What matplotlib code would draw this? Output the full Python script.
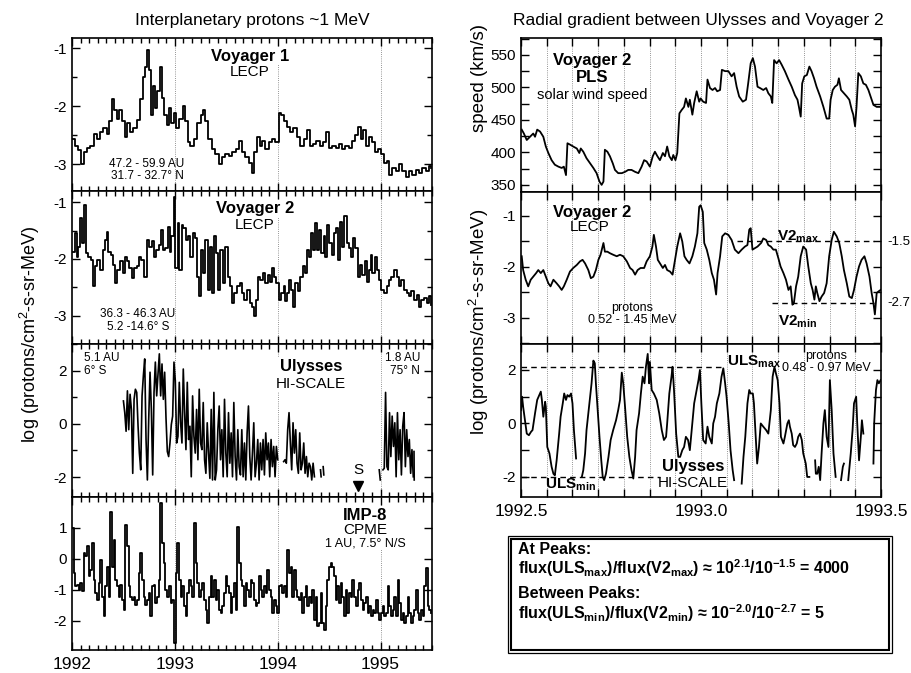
import numpy as np
import matplotlib.pyplot as plt
from matplotlib.ticker import MultipleLocator, FixedLocator, FormatStrFormatter
from matplotlib.patches import Rectangle

plt.rcParams['font.family'] = ['Liberation Sans', 'DejaVu Sans']
plt.rcParams['mathtext.fontset'] = 'custom'
plt.rcParams['mathtext.rm'] = 'Liberation Sans'
plt.rcParams['mathtext.bf'] = 'Liberation Sans:bold'
plt.rcParams['mathtext.it'] = 'Liberation Sans:italic'
plt.rcParams['axes.unicode_minus'] = False

nan = np.nan

# ---- left column: ~1 MeV protons, 1992-1995.5 (years after 1992, log flux)
v1_pts = [(0.0,-2.56),(0.029,-2.68),(0.062,-2.76),(0.084,-3.0),(0.117,-2.79),(0.143,-2.71),(0.175,-2.68),(0.214,-2.47),(0.240,-2.56),(0.273,-2.44),
          (0.305,-2.38),(0.338,-2.47),(0.364,-2.26),(0.386,-1.88),(0.409,-2.06),(0.435,-2.21),(0.461,-2.06),(0.484,-2.26),(0.516,-2.53),(0.539,-2.29),
          (0.565,-2.44),(0.597,-2.38),(0.630,-2.24),(0.662,-1.88),(0.688,-1.5),(0.711,-1.32),(0.727,-1.03),(0.747,-1.38),(0.766,-2.15),(0.786,-1.65),
          (0.808,-2.03),(0.831,-1.74),(0.851,-1.32),(0.873,-1.85),(0.896,-2.15),(0.922,-2.32),(0.942,-2.03),(0.964,-2.29),(0.987,-2.12),(1.013,-2.38),
          (1.036,-2.21),(1.078,-2.0),(1.101,-2.26),(1.123,-2.62),(1.149,-2.68),(1.182,-2.56),(1.214,-2.29),(1.253,-2.15),(1.273,-2.06),(1.295,-2.26),
          (1.318,-2.56),(1.360,-2.74),(1.393,-2.82),(1.425,-3.0),(1.458,-2.88),(1.490,-2.82),(1.523,-2.85),(1.555,-2.79),(1.597,-2.74),(1.620,-2.59),
          (1.653,-2.79),(1.685,-2.88),(1.718,-2.97),(1.750,-3.15),(1.773,-2.79),(1.799,-2.53),(1.825,-2.68),(1.847,-2.59),(1.880,-2.74),(1.912,-2.62),
          (1.945,-2.56),(1.977,-2.62),(2.010,-2.12),(2.032,-2.15),(2.058,-2.26),(2.091,-2.35),(2.123,-2.44),(2.149,-2.38),(2.188,-2.53),(2.221,-2.68),
          (2.253,-2.56),(2.286,-2.41),(2.312,-2.68),(2.344,-2.65),(2.377,-2.59),(2.409,-2.68),(2.442,-2.62),(2.474,-2.44),(2.497,-2.71),(2.529,-2.68),
          (2.562,-2.71),(2.594,-2.65),(2.627,-2.74),(2.659,-2.68),(2.692,-2.71),(2.724,-2.59),(2.756,-2.5),(2.779,-2.35),(2.805,-2.56),(2.831,-2.41),
          (2.854,-2.68),(2.886,-2.53),(2.919,-2.62),(2.942,-2.79),(2.974,-2.74),(3.000,-2.82),(3.032,-2.97),(3.058,-2.94),(3.081,-3.18),(3.114,-3.06),
          (3.146,-3.12),(3.179,-3.0),(3.211,-3.12),(3.244,-3.21),(3.276,-3.12),(3.308,-3.18),(3.341,-3.09),(3.373,-3.15),(3.406,-3.06),(3.438,-3.12),
          (3.471,-3.03),(3.494,-3.06)]

v2_pts = [(0.006,-1.87),(0.029,-1.55),(0.045,-1.96),(0.062,-1.78),(0.078,-1.28),(0.094,-1.72),(0.117,-1.05),(0.136,-1.90),(0.159,-1.96),(0.182,-2.01),
          (0.208,-2.48),(0.224,-2.13),(0.247,-2.01),(0.273,-2.19),(0.299,-1.84),(0.321,-1.66),(0.338,-1.52),(0.354,-1.87),(0.377,-1.93),(0.396,-2.10),
          (0.419,-2.43),(0.442,-2.19),(0.468,-2.04),(0.494,-2.25),(0.516,-1.96),(0.539,-2.04),(0.558,-2.16),(0.581,-2.34),(0.604,-2.16),(0.630,-2.13),
          (0.653,-1.96),(0.672,-2.01),(0.701,-2.31),(0.727,-1.66),(0.750,-1.78),(0.776,-1.69),(0.799,-1.96),(0.818,-1.84),(0.841,-1.75),(0.864,-1.49),
          (0.883,-1.84),(0.906,-1.81),(0.929,-1.43),(0.948,-1.87),(0.964,-1.60),(0.987,-0.90),(1.006,-2.16),(1.026,-1.37),(1.045,-2.19),(1.065,-1.40),
          (1.084,-1.46),(1.107,-1.66),(1.127,-1.60),(1.149,-1.96),(1.172,-1.55),(1.192,-1.63),(1.214,-2.31),(1.234,-2.66),(1.253,-1.84),(1.273,-2.25),
          (1.295,-1.66),(1.318,-2.54),(1.338,-1.78),(1.360,-2.60),(1.383,-1.60),(1.403,-1.90),(1.422,-2.54),(1.442,-1.84),(1.468,-2.43),(1.490,-1.78),
          (1.513,-2.31),(1.532,-2.48),(1.555,-2.78),(1.578,-2.60),(1.604,-2.48),(1.630,-2.43),(1.653,-2.60),(1.675,-2.72),(1.701,-2.54),(1.727,-2.78),
          (1.750,-2.84),(1.766,-3.01),(1.786,-2.72),(1.805,-2.31),(1.831,-2.37),(1.857,-2.25),(1.880,-2.43),(1.903,-2.28),(1.929,-2.40),(1.948,-2.16),
          (1.968,-2.31),(1.987,-2.43),(2.010,-2.72),(2.032,-2.60),(2.058,-2.48),(2.075,-2.75),(2.091,-2.60),(2.110,-2.37),(2.130,-2.54),(2.149,-2.84),
          (2.172,-2.43),(2.195,-2.57),(2.221,-2.31),(2.247,-2.13),(2.269,-2.25),(2.286,-1.84),(2.305,-1.96),(2.325,-1.55),(2.344,-1.84),(2.367,-1.37),
          (2.383,-1.84),(2.399,-1.49),(2.422,-1.90),(2.448,-1.60),(2.464,-1.96),(2.481,-1.40),(2.503,-1.72),(2.523,-1.93),(2.545,-1.55),(2.565,-1.46),
          (2.584,-2.01),(2.604,-1.34),(2.627,-1.78),(2.649,-1.25),(2.669,-1.72),(2.692,-1.81),(2.714,-1.96),(2.734,-1.63),(2.756,-1.81),(2.779,-2.31),
          (2.799,-2.10),(2.821,-2.28),(2.844,-2.04),(2.864,-2.40),(2.886,-2.19),(2.903,-1.93),(2.919,-2.25),(2.942,-1.96),(2.961,-2.19),(2.984,-2.37),
          (3.006,-2.54),(3.032,-2.60),(3.058,-2.48),(3.081,-2.37),(3.104,-2.31),(3.130,-2.19),(3.156,-2.31),(3.179,-2.48),(3.201,-2.37),(3.227,-2.54),
          (3.253,-2.60),(3.276,-2.66),(3.299,-2.57),(3.325,-2.72),(3.351,-2.63),(3.373,-2.84),(3.396,-2.72),(3.422,-2.69),(3.448,-2.78),(3.471,-2.66),
          (3.494,-2.81)]

# Ulysses HI-SCALE: segments (start year, end year, values)
uls_segments = [
    (1992.5, 1994.0, [0.86,0.42,-0.28,1.24,-0.22,1.11,0.54,-1.86,0.92,1.30,1.18,-0.09,-1.10,-1.73,1.05,1.81,2.44,-0.59,-2.11,0.16,
                      1.94,0.54,-1.92,1.18,2.32,1.05,1.87,2.63,1.05,2.25,0.92,1.94,0.23,-1.04,-1.23,-0.72,-0.03,0.29,2.32,1.62,
                      -0.72,-0.47,1.56,0.04,-0.72,2.06,0.42,-0.97,1.56,-0.59,-0.09,-1.99,1.05,-0.47,-1.10,0.54,-1.35,1.30,-0.72,-0.97,
                      0.80,-1.35,-1.86,0.04,-1.10,-2.05,0.54,-2.11,1.18,-2.11,-1.73,-0.22,0.67,-1.35,-0.22,-1.99,0.92,-1.10,-1.99,0.42,
                      -1.48,-0.34,-1.99,0.80,-1.23,-2.11,-0.22,-1.61,-1.92,-0.22,-1.99,-0.72,-2.11,-0.34,0.67,-1.23,-2.11,-1.10,0.04,-1.99,
                      -1.48,-0.59,-2.11,-0.72,-1.73,-0.59,-1.92,-0.34,-1.35,-0.72,-1.99,-0.59,-1.61,-0.85,-1.99,-0.85,-1.35]),
    (1994.058, 1994.357, [-1.42,-1.35,-1.48,-0.22,0.42,-0.72,-1.73,0.04,-1.10,-0.22,-1.48,-1.86,-0.34,-1.73,-1.48,-0.72,
                          -1.86,-1.23,-1.99,-1.48,-1.61,-2.11,-1.48,-1.99]),
    (1994.416, 1994.422, [-1.73,-1.99]),
    (1994.442, 1994.448, [-1.61,-1.92]),
    (1994.987, 1994.997, [-1.73,-2.11]),
    (1995.023, 1995.318, [-1.73,-1.67,1.18,-1.61,-1.73,0.42,-1.23,0.29,-0.85,0.04,-1.99,0.42,-1.35,-0.22,-1.92,-0.09,
                          0.42,-1.61,-0.22,-1.23,-0.59,-1.86,-0.97,-1.99]),
    (1995.325, 1995.327, [-1.04,-2.11]),
]
shock_year = 1994.78

imp8_start, imp8_end = 1992.0, 1995.49
imp8_vals = [0.99,-0.46,-0.89,-0.84,-1.0,-0.78,-1.05,0.18,0.08,0.40,-0.57,-0.35,0.51,-0.68,-1.11,-1.32,-0.78,-0.03,-1.22,-1.86,
             -0.89,-0.25,-1.22,1.53,-0.25,0.61,-0.68,-0.89,-1.22,-0.84,-1.32,-1.65,1.10,0.40,-0.89,-1.22,-1.32,-1.22,-1.48,-1.32,
             -0.46,0.18,-0.68,-1.22,-1.48,-1.32,-1.11,-1.86,-0.89,-0.84,-1.43,-1.22,-0.68,1.80,0.51,-0.14,-1.0,-1.22,-0.89,-1.43,
             -1.32,-2.72,-0.46,0.51,-0.68,-1.22,-0.89,-1.54,-1.86,-1.11,-0.68,-0.89,-1.22,1.15,-0.14,-0.78,-1.22,-1.0,-0.78,-1.32,
             -1.65,-2.08,-1.22,-0.57,-1.22,-0.68,-1.32,-1.0,-1.65,-1.75,-1.54,-1.11,-0.57,-0.89,-1.11,-1.75,-1.22,-0.78,-1.65,1.04,
             -0.14,-0.68,-0.89,-1.54,-0.78,-1.0,-1.22,-0.68,-0.78,-1.32,-1.54,-1.43,-0.57,-1.0,-1.22,-0.89,-1.11,-0.35,-1.0,-1.22,
             -1.75,-1.32,-1.54,-1.75,-0.89,-0.84,-1.11,-0.89,-1.22,0.29,-0.46,-0.25,-1.22,-0.35,-1.0,-1.22,-1.32,-1.11,-1.75,-1.22,
             -0.89,-1.54,-1.22,-1.43,-1.0,-1.97,-1.22,-2.18,-2.08,-1.11,-2.08,-2.29,-1.54,-0.68,-0.25,-0.14,-0.25,-0.57,-1.32,-0.89,
             -1.43,-0.78,-1.22,-1.86,-1.0,-1.75,-1.11,-1.22,-0.68,-1.22,-1.54,-1.0,-0.78,-1.32,-1.65,-1.43,-1.22,-1.75,-1.54,-1.86,
             -1.65,-1.75,-1.32,-1.75,-1.97,-1.75,-1.54,-1.86,-1.75,-0.89,-1.54,-1.86,-1.65,-1.22,-1.86,-0.68,-1.43,-1.97,-1.75,-2.08,
             -1.86,-1.22,-1.75,-2.08,-1.86,-1.65,-1.0,-1.75,-1.97,-1.65,-1.86,-0.89,-0.30,-1.54,-1.65,-1.75]

# ---- right column: 1992.5-1993.5 (years after 1992.5)
speed_pts = [(0.002,435),(0.008,429),(0.016,419),(0.025,424),(0.034,429),(0.039,424),(0.045,435),(0.053,432),(0.062,424),(0.069,409),
             (0.076,399),(0.085,388),(0.094,381),(0.104,378),(0.113,376),(0.119,378),(0.125,365),(0.129,414),(0.136,412),(0.145,409),
             (0.155,406),(0.162,399),(0.166,406),(0.173,401),(0.182,391),(0.192,383),(0.201,376),(0.210,368),(0.218,355),(0.224,350),
             (0.229,355),(0.233,404),(0.240,401),(0.247,394),(0.255,383),(0.261,373),(0.270,368),(0.280,368),(0.289,370),(0.298,373),
             (0.307,373),(0.317,370),(0.326,368),(0.335,378),(0.342,388),(0.349,386),(0.358,378),(0.366,394),(0.372,401),(0.379,394),
             (0.386,388),(0.394,399),(0.400,394),(0.406,409),(0.412,394),(0.419,388),(0.423,396),(0.429,388),(0.434,399),(0.440,460),
             (0.446,465),(0.453,470),(0.458,483),(0.465,470),(0.469,481),(0.476,458),(0.481,476),(0.488,494),(0.495,478),(0.499,483),
             (0.506,478),(0.514,476),(0.518,512),(0.525,499),(0.532,496),(0.539,499),(0.545,494),(0.553,496),(0.558,527),(0.567,525),
             (0.576,525),(0.585,517),(0.592,522),(0.599,501),(0.606,486),(0.616,478),(0.625,481),(0.631,506),(0.638,537),(0.644,545),
             (0.650,532),(0.657,501),(0.664,499),(0.673,496),(0.681,499),(0.687,491),(0.694,486),(0.698,476),(0.703,542),(0.710,537),
             (0.717,542),(0.724,535),(0.733,525),(0.743,512),(0.752,501),(0.761,488),(0.768,481),(0.772,470),(0.777,455),(0.781,506),
             (0.787,517),(0.794,519),(0.801,532),(0.807,525),(0.814,514),(0.821,501),(0.831,486),(0.840,470),(0.849,452),(0.856,452),
             (0.860,481),(0.866,496),(0.872,501),(0.879,504),(0.883,514),(0.889,496),(0.897,491),(0.905,486),(0.912,481),(0.919,465),
             (0.923,458),(0.928,440),(0.932,470),(0.937,522),(0.944,517),(0.951,506),(0.958,504),(0.965,496),(0.971,486),(0.979,473),
             (0.988,470),(0.999,470)]

v2r_pts = [(0.002,-1.79),(0.006,-2.06),(0.013,-2.25),(0.020,-2.38),(0.027,-2.25),(0.034,-2.19),(0.042,-2.12),(0.048,-2.06),(0.055,-2.12),(0.062,-2.06),
           (0.069,-2.19),(0.076,-2.32),(0.082,-2.38),(0.090,-2.25),(0.099,-2.32),(0.106,-2.38),(0.113,-2.45),(0.119,-2.38),(0.127,-2.25),(0.136,-2.09),
           (0.145,-2.02),(0.155,-1.96),(0.164,-1.89),(0.171,-1.86),(0.178,-1.93),(0.187,-2.06),(0.194,-2.22),(0.201,-2.19),(0.208,-2.06),(0.215,-1.86),
           (0.221,-1.76),(0.229,-1.53),(0.233,-1.70),(0.240,-1.70),(0.247,-1.73),(0.256,-1.76),(0.266,-1.79),(0.275,-1.76),(0.284,-1.79),(0.294,-1.89),
           (0.303,-2.02),(0.310,-2.06),(0.317,-2.15),(0.324,-2.06),(0.332,-2.02),(0.342,-2.02),(0.349,-1.89),(0.358,-1.79),(0.365,-1.60),(0.369,-1.37),
           (0.375,-1.60),(0.380,-1.86),(0.386,-1.93),(0.394,-2.02),(0.400,-1.96),(0.406,-2.06),(0.414,-2.09),(0.421,-2.15),(0.428,-1.86),(0.434,-1.60),
           (0.442,-1.34),(0.448,-1.50),(0.454,-1.79),(0.460,-1.86),(0.468,-1.93),(0.476,-1.79),(0.483,-1.60),(0.490,-1.34),(0.495,-0.82),(0.499,-0.79),
           (0.505,-0.92),(0.509,-1.53),(0.516,-1.66),(0.523,-1.86),(0.530,-2.12),(0.536,-2.25),(0.542,-2.54),(0.546,-2.12),(0.553,-1.79),(0.559,-1.40),
           (0.567,-1.34),(0.576,-1.37),(0.585,-1.47),(0.594,-1.66),(0.604,-1.73),(0.613,-1.66),(0.622,-1.60),(0.629,-1.57),(0.634,-1.27),(0.638,-1.24),
           (0.643,-1.66),(0.650,-1.63),(0.657,-1.60),(0.667,-1.53),(0.673,-1.44),(0.681,-1.47),(0.687,-1.57),(0.694,-1.60),(0.701,-1.66),(0.708,-1.66),
           (0.715,-1.83),(0.721,-1.99),(0.729,-2.12),(0.736,-2.25),(0.743,-2.45),(0.749,-2.38),(0.754,-2.74),(0.758,-2.71),(0.764,-2.38),(0.770,-2.19),
           (0.777,-1.79),(0.784,-1.60),(0.792,-1.66),(0.798,-1.99),(0.805,-2.32),(0.810,-2.45),(0.815,-2.64),(0.819,-2.38),(0.823,-2.51),(0.829,-2.67),
           (0.835,-2.58),(0.842,-2.51),(0.849,-2.32),(0.856,-1.79),(0.863,-1.47),(0.869,-1.31),(0.877,-1.40),(0.884,-1.53),(0.891,-1.79),(0.897,-2.06),
           (0.905,-2.32),(0.912,-2.58),(0.919,-2.61),(0.925,-2.45),(0.932,-2.19),(0.939,-1.99),(0.946,-1.86),(0.954,-1.79),(0.960,-1.93),(0.968,-2.19),
           (0.974,-2.51),(0.979,-2.71),(0.983,-2.93),(0.988,-2.51),(0.993,-2.48),(0.999,-2.45)]

ulsr_pts = [(0.000,0.5),(0.003,1.0),(0.006,0.62),(0.011,0.12),(0.016,-0.38),(0.022,-0.44),(0.028,-0.31),(0.032,-0.25),(0.039,0.38),(0.045,0.88),
            (0.051,1.06),(0.055,1.19),(0.058,0.88),(0.062,0.25),(0.067,0.81),(0.069,0.62),(0.073,-0.88),(0.079,-1.12),(0.085,-1.62),(0.090,-1.88),
            (0.094,-1.94),(0.099,-1.38),(0.106,-0.38),(0.110,0.25),(0.116,0.75),(0.120,1.12),(0.125,0.88),(0.129,1.06),(0.134,1.0),(0.139,1.12),
            (0.143,0.75),(0.147,-0.25),(0.153,-1.31),(0.160,nan),(0.169,-2.0),(0.173,-1.75),(0.178,-1.12),(0.182,-0.25),(0.190,0.75),(0.196,1.5),
            (0.201,2.35),(0.205,2.25),(0.208,1.5),(0.213,0.5),(0.218,-0.5),(0.223,-1.38),(0.227,-2.0),(0.231,-2.12),(0.236,-1.88),(0.243,-1.25),
            (0.249,-0.62),(0.256,-0.25),(0.264,0.12),(0.270,0.5),(0.275,0.88),(0.280,1.9),(0.284,1.5),(0.289,0.62),(0.295,-0.5),(0.301,-1.25),
            (0.307,-1.75),(0.312,-2.06),(0.317,-1.25),(0.321,-0.25),(0.328,0.38),(0.333,1.12),(0.338,1.75),(0.343,1.5),(0.347,2.12),(0.352,2.6),
            (0.356,1.5),(0.358,2.3),(0.363,1.25),(0.369,1.12),(0.377,0.88),(0.384,0.38),(0.391,-0.25),(0.397,-0.62),(0.403,-0.5),(0.406,0.0),
            (0.412,1.12),(0.418,1.75),(0.421,2.12),(0.425,1.25),(0.431,-0.38),(0.437,-1.25),(0.442,-1.25),(0.448,-1.0),(0.453,-0.88),(0.458,-0.5),
            (0.464,-0.62),(0.469,-1.0),(0.476,0.0),(0.481,0.75),(0.488,1.25),(0.493,1.62),(0.497,2.0),(0.501,0.75),(0.506,-0.62),(0.513,-0.75),
            (0.518,-0.12),(0.523,-0.5),(0.530,-0.75),(0.534,0.0),(0.539,0.25),(0.544,0.75),(0.551,1.12),(0.557,1.75),(0.562,2.06),(0.567,1.5),
            (0.571,1.0),(0.577,0.0),(0.582,-1.0),(0.588,-1.75),(0.592,-2.12),(0.600,nan),(0.613,-2.25),(0.618,-1.25),(0.623,-0.5),(0.629,0.75),
            (0.634,1.25),(0.638,1.12),(0.644,1.12),(0.647,0.75),(0.652,-0.5),(0.656,-1.5),(0.661,-0.88),(0.666,0.0),(0.673,-0.12),(0.681,-0.25),
            (0.687,-0.38),(0.694,0.5),(0.699,1.75),(0.704,2.12),(0.708,1.88),(0.713,1.62),(0.718,0.75),(0.722,-0.5),(0.729,-0.75),(0.733,-0.5),
            (0.740,0.0),(0.744,0.12),(0.747,-0.12),(0.752,-0.38),(0.756,-0.81),(0.761,-0.88),(0.766,-0.75),(0.770,-0.5),(0.775,-0.38),(0.780,-0.62),
            (0.784,-1.12),(0.791,-1.5),(0.795,-2.0),(0.801,-2.0),(0.810,nan),(0.817,-1.38),(0.819,-1.88),(0.823,-1.88),(0.827,-1.62),(0.831,-2.12),
            (0.835,-1.12),(0.840,0.0),(0.844,0.5),(0.849,-0.5),(0.854,-0.88),(0.858,1.62),(0.863,0.5),(0.868,-1.12),(0.874,-2.0),(0.880,nan),
            (0.889,-2.12),(0.894,-1.62),(0.897,-1.5),(0.903,nan),(0.909,-2.12),(0.916,-1.12),(0.921,-0.25),(0.925,0.75),(0.931,1.0),(0.934,0.0),
            (0.939,-1.38),(0.944,-0.5),(0.947,0.12),(0.951,-0.38),(0.960,nan),(0.979,-1.5),(0.981,0.0),(0.986,1.25),(0.990,1.62),(0.994,1.5),
            (0.999,1.62)]

v2_max, v2_min = -1.5, -2.7
uls_max, uls_min = 2.1, -2.0

W, H = 912, 673
fig = plt.figure(figsize=(W / 100, H / 100), dpi=100)


def rect(x0, y0, x1, y1):
    return [x0 / W, 1 - y1 / H, (x1 - x0) / W, (y1 - y0) / H]


def txt(x, y, s, ha='center', va='center', **kw):
    fig.text(x / W, 1 - y / H, s, ha=ha, va=va, **kw)


def style(ax):
    for sp in ax.spines.values():
        sp.set_linewidth(1.2)
    ax.tick_params(which='both', direction='in', top=True, right=True, width=1, labelsize=11)
    ax.tick_params(which='major', length=6)
    ax.tick_params(which='minor', length=3.5)


white = dict(fc='white', ec='none', pad=1.0)
dot = dict(color='0.45', lw=0.6, ls=(0, (1, 1.6)), zorder=0)

# ----------------------------- left column
lax = [fig.add_axes(rect(72, y0, 432, y1)) for y0, y1 in [(38, 191), (191, 344), (344, 497), (497, 650)]]
for ax in lax:
    style(ax)
    ax.set_xlim(1992, 1995.5)
    ax.xaxis.set_major_locator(MultipleLocator(1))
    ax.xaxis.set_minor_locator(MultipleLocator(1 / 12))
    for yr in (1993, 1994, 1995):
        ax.axvline(yr, **dot)
    if ax is not lax[-1]:
        ax.tick_params(labelbottom=False)
lax[-1].tick_params(axis='x', labelsize=12.5, pad=5)

t, v = np.array(v1_pts).T
lax[0].step(1992 + t, v, where='post', color='k', lw=1.3)
lax[0].set_ylim(-3.46, -0.82)
lax[0].yaxis.set_major_locator(MultipleLocator(1))
lax[0].yaxis.set_minor_locator(MultipleLocator(0.5))

t, v = np.array(v2_pts).T
lax[1].step(1992 + t, v, where='post', color='k', lw=1.3)
lax[1].set_ylim(-3.5, -0.8)
lax[1].yaxis.set_major_locator(MultipleLocator(1))
lax[1].yaxis.set_minor_locator(MultipleLocator(0.5))

for t0, t1, vals in uls_segments:
    lax[2].plot(np.linspace(t0, t1, len(vals)), vals, color='k', lw=1.2)
lax[2].plot(shock_year, -2.35, marker='v', color='k', ms=7)
lax[2].text(shock_year, -1.75, 'S', ha='center', va='center', fontsize=11)
lax[2].set_ylim(-2.75, 3.0)
lax[2].yaxis.set_major_locator(FixedLocator([-2, 0, 2]))
lax[2].yaxis.set_minor_locator(MultipleLocator(1))

lax[3].step(np.linspace(imp8_start, imp8_end, len(imp8_vals)), imp8_vals, where='post', color='k', lw=1.3)
lax[3].set_ylim(-2.95, 2.0)
lax[3].yaxis.set_major_locator(FixedLocator([-2, -1, 0, 1]))
for ax in lax:
    ax.yaxis.set_major_formatter(FormatStrFormatter('%d'))

# ----------------------------- right column
rax = [fig.add_axes(rect(521, y0, 881, y1)) for y0, y1 in [(38, 192), (192, 344), (344, 497)]]
rot = [1992.5 + k / 14 for k in range(15)]
for ax in rax:
    style(ax)
    ax.tick_params(which='minor', length=6)
    ax.set_xlim(1992.5, 1993.5)
    ax.xaxis.set_major_locator(FixedLocator([1992.5, 1993.0, 1993.5]))
    ax.xaxis.set_minor_locator(FixedLocator(rot))
    ax.xaxis.set_major_formatter(FormatStrFormatter('%.1f'))
    for x in rot[1:-1]:
        ax.axvline(x, **dot)
    if ax is not rax[-1]:
        ax.tick_params(labelbottom=False)
rax[-1].tick_params(axis='x', labelsize=12.5, pad=5)

t, v = np.array(speed_pts).T
rax[0].plot(1992.5 + t, v, color='k', lw=1.3)
rax[0].set_ylim(339, 576)
rax[0].yaxis.set_major_locator(MultipleLocator(50))
rax[0].yaxis.set_minor_locator(MultipleLocator(25))

t, v = np.array(v2r_pts).T
rax[1].plot(1992.5 + t, v, color='k', lw=1.3)
rax[1].hlines(v2_max, 1993.099, 1993.48, colors='k', linestyles=(0, (4, 3)), lw=1)
rax[1].hlines(v2_min, 1993.196, 1993.48, colors='k', linestyles=(0, (4, 3)), lw=1)
rax[1].set_ylim(-3.51, -0.53)
rax[1].yaxis.set_major_locator(MultipleLocator(1))
rax[1].yaxis.set_minor_locator(MultipleLocator(0.5))
rax[1].yaxis.set_major_formatter(FormatStrFormatter('%d'))

t, v = np.array(ulsr_pts).T
rax[2].plot(1992.5 + t, v, color='k', lw=1.3)
rax[2].hlines(uls_max, 1992.5, 1993.057, colors='k', linestyles=(0, (4, 3)), lw=1)
rax[2].hlines(uls_min, 1992.5, 1992.886, colors='k', linestyles=(0, (4, 3)), lw=1)
rax[2].set_ylim(-2.75, 2.97)
rax[2].yaxis.set_major_locator(FixedLocator([-2, 0, 2]))
rax[2].yaxis.set_minor_locator(MultipleLocator(1))
rax[2].yaxis.set_major_formatter(FormatStrFormatter('%d'))

# ----------------------------- titles and labels
txt(252, 20, 'Interplanetary protons ~1 MeV', fontsize=12.5)
txt(698, 21, 'Radial gradient between Ulysses and Voyager 2', fontsize=12.5)
txt(30, 334, r'log (protons/cm$^2$-s-sr-MeV)', rotation=90, fontsize=13)
txt(479, 322, r'log (protons/cm$^2$-s-sr-MeV)', rotation=90, fontsize=13.5)
txt(479, 78, 'speed (km/s)', rotation=90, fontsize=13.5)

# left panel annotations
txt(250, 56, 'Voyager 1', fontsize=12, fontweight='bold', bbox=white)
txt(250, 72, 'LECP', fontsize=11, bbox=white)
txt(147, 164, '47.2 - 59.9 AU', fontsize=8.5)
txt(147, 176, '31.7 - 32.7° N', fontsize=8.5)
txt(255, 209, 'Voyager 2', fontsize=12, fontweight='bold', bbox=white)
txt(255, 225, 'LECP', fontsize=11, bbox=white)
txt(138, 314, '36.3 - 46.3 AU', fontsize=8.5)
txt(138, 327, '5.2 -14.6° S', fontsize=8.5)
txt(84, 358, '5.1 AU', ha='left', fontsize=8.5)
txt(84, 371, '6° S', ha='left', fontsize=8.5)
txt(420, 358, '1.8 AU', ha='right', fontsize=8.5, bbox=white)
txt(420, 371, '75° N', ha='right', fontsize=8.5, bbox=white)
txt(311, 367, 'Ulysses', fontsize=12, fontweight='bold', bbox=white)
txt(311, 384, 'HI-SCALE', fontsize=11, bbox=white)
txt(365, 515, 'IMP-8', fontsize=12, fontweight='bold', bbox=white)
txt(365, 530, 'CPME', fontsize=11, bbox=white)
txt(365, 543, '1 AU, 7.5° N/S', fontsize=9, bbox=white)

# right panel annotations
txt(592, 61, 'Voyager 2', fontsize=12, fontweight='bold')
txt(592, 78, 'PLS', fontsize=12, fontweight='bold')
txt(592, 95, 'solar wind speed', fontsize=10.5)
txt(592, 212, 'Voyager 2', fontsize=12, fontweight='bold')
txt(590, 227, 'LECP', fontsize=11)
txt(632, 308, 'protons', fontsize=9)
txt(632, 320, '0.52 - 1.45 MeV', fontsize=9)
txt(798, 237, r'V2$_{\mathbf{max}}$', fontsize=11, fontweight='bold')
txt(798, 322, r'V2$_{\mathbf{min}}$', fontsize=11, fontweight='bold')
txt(887, 242, '-1.5', ha='left', fontsize=9.5)
txt(887, 303, '-2.7', ha='left', fontsize=9.5)
txt(727, 362, r'ULS$_{\mathbf{max}}$', ha='left', fontsize=11, fontweight='bold')
txt(826, 356, 'protons', fontsize=9)
txt(826, 368, '0.48 - 0.97 MeV', fontsize=9)
txt(693, 467, 'Ulysses', fontsize=12, fontweight='bold')
txt(693, 483, 'HI-SCALE', fontsize=11)
txt(545, 485, r'ULS$_{\mathbf{min}}$', ha='left', fontsize=11, fontweight='bold')

# summary box
fig.patches.append(Rectangle((508 / W, 1 - 653 / H), 384 / W, 117 / H, transform=fig.transFigure,
                             fill=False, ec='k', lw=0.9))
fig.patches.append(Rectangle((511 / W, 1 - 650 / H), 378 / W, 111 / H, transform=fig.transFigure,
                             fill=False, ec='k', lw=1.5))
txt(518, 549, 'At Peaks:', ha='left', fontsize=11.5, fontweight='bold')
txt(518, 568, r'flux(ULS$_{\mathbf{max}}$)/flux(V2$_{\mathbf{max}}$) ≈ 10$^{\mathbf{2.1}}$/10$^{\mathbf{-1.5}}$ = 4000',
    ha='left', fontsize=11.5, fontweight='bold')
txt(518, 593, 'Between Peaks:', ha='left', fontsize=11.5, fontweight='bold')
txt(518, 613, r'flux(ULS$_{\mathbf{min}}$)/flux(V2$_{\mathbf{min}}$) ≈ 10$^{\mathbf{-2.0}}$/10$^{\mathbf{-2.7}}$ = 5',
    ha='left', fontsize=11.5, fontweight='bold')

fig.savefig('out.png', dpi=100)
